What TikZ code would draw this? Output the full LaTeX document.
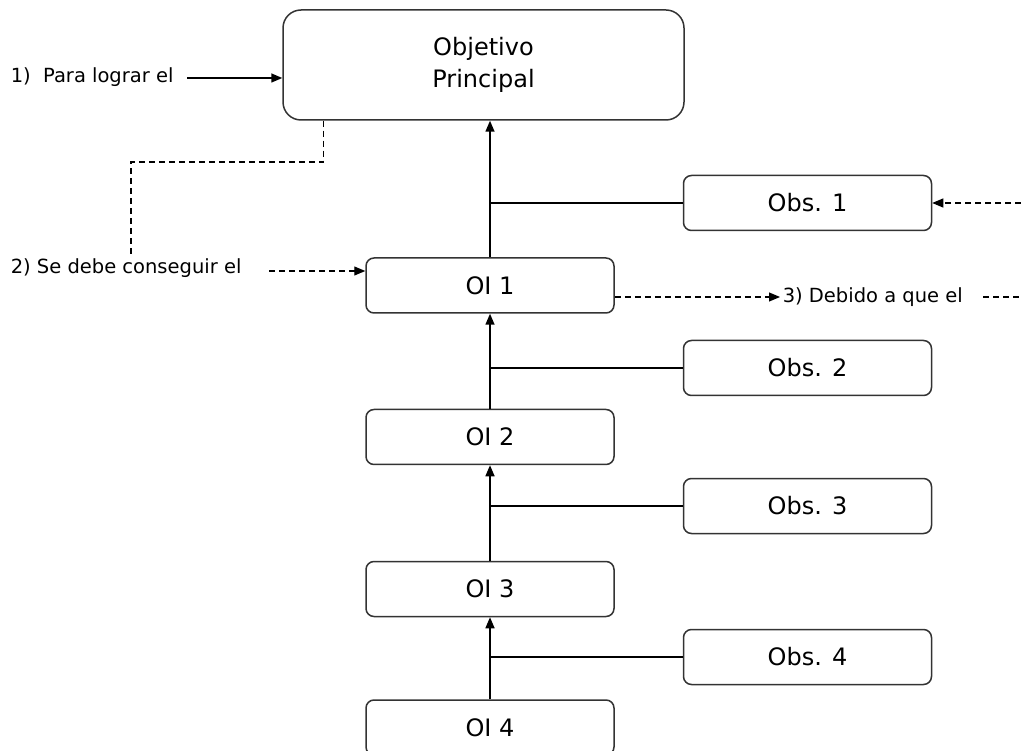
\documentclass[tikz,border=0pt]{standalone}
\usepackage{fontspec}
\setmainfont{DejaVu Sans}
\usetikzlibrary{arrows.meta,calc}
\begin{document}
\begin{tikzpicture}[x=1pt,y=-1pt,
  line width=1.5pt,
  box/.style={draw=black!80, line width=1.5pt, rounded corners=8pt,
    minimum width=248pt, minimum height=55pt, inner sep=0pt,
    font=\fontsize{24}{32}\selectfont},
  side/.style={inner sep=2pt, anchor=west, font=\fontsize{19.5}{23}\selectfont},
  tip/.style={-{Triangle[length=11pt,width=9pt]}},
  dashline/.style={line width=1.1pt, dash pattern=on 6pt off 4pt}]
\clip (0,0) rectangle (1021,751);
\fill[white] (0,0) rectangle (1021,751);

% main objective
\node[box, minimum width=401pt, minimum height=110pt, rounded corners=18pt,
  align=center] (obj) at (483.5,65) {Objetivo\\Principal};

% intermediate objectives
\node[box] (oi1) at (490,285.5) {OI 1};
\node[box] (oi2) at (490,437) {OI 2};
\node[box] (oi3) at (490,589) {OI 3};
\node[box] (oi4) at (490,727.5) {OI 4};

% obstacles
\node[box] (obs1) at (807.5,203) {Obs. 1};
\node[box] (obs2) at (807.5,368) {Obs. 2};
\node[box] (obs3) at (807.5,506) {Obs. 3};
\node[box] (obs4) at (807.5,657) {Obs. 4};

% chain of objectives with obstacle branches
\draw[tip] (oi1.north) -- (oi1.north |- obj.south);
\draw (obs1.west) -- (obs1.west -| oi1.north);
\draw[tip] (oi2.north) -- (oi1.south);
\draw (obs2.west) -- (obs2.west -| oi2.north);
\draw[tip] (oi3.north) -- (oi2.south);
\draw (obs3.west) -- (obs3.west -| oi3.north);
\draw[tip] (oi4.north) -- (oi3.south);
\draw (obs4.west) -- (obs4.west -| oi4.north);

% reading guide
\node[side] (l1) at (8,77) {1)\ \ Para lograr el};
\node[side] (l2) at (8,268) {2) Se debe conseguir el};
\node[side] (l3) at (780,297) {3) Debido a que el};

\coordinate (s1) at (187,78);
\draw[tip] (s1) -- (s1 -| obj.west);

\coordinate (bend) at (131,162);
\coordinate (dend) at (131,258);
\draw[dashline] ([xshift=41pt]obj.south west) |- (bend) -- (dend);

\coordinate (s2) at (269,271);
\draw[tip,dashline] (s2) -- (s2 -| oi1.west);

\draw[tip,dashline] (oi1.east |- l3.west) -- (l3.west);
\coordinate (s3) at (983,297);
\coordinate (e3) at (1021,297);
\draw[dashline] (s3) -- (e3);

\coordinate (r1) at (1021,203);
\draw[tip,dashline] (r1) -- (obs1.east);
\end{tikzpicture}
\end{document}
